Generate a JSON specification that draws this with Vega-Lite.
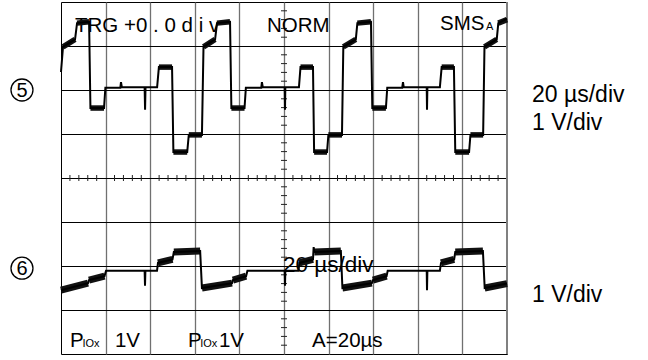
{
  "$schema": "https://vega.github.io/schema/vega-lite/v6.json",
  "width": 446,
  "height": 352,
  "autosize": {"type": "none"},
  "padding": {"left": 61, "top": 2, "right": 141, "bottom": 6},
  "background": "white",
  "config": {
    "view": {"stroke": "#000", "strokeWidth": 1},
    "font": "Liberation Sans"
  },
  "datasets": {
    "upper": [
      {"t": 0, "v": 2.41}, {"t": 0.9, "v": 2.98}, {"t": 6.3, "v": 3.15}, {"t": 7.2, "v": 3.52}, {"t": 12.6, "v": 3.55},
      {"t": 13.2, "v": 1.59}, {"t": 19.3, "v": 1.59}, {"t": 19.9, "v": 2.05}, {"t": 26.6, "v": 2.05}, {"t": 26.9, "v": 2.18},
      {"t": 27.3, "v": 2.06}, {"t": 37.5, "v": 2.06}, {"t": 37.7, "v": 1.55}, {"t": 37.9, "v": 2.06}, {"t": 43.1, "v": 2.06},
      {"t": 43.9, "v": 2.52}, {"t": 49.8, "v": 2.52}, {"t": 50.4, "v": 0.59}, {"t": 56.6, "v": 0.59}, {"t": 57.3, "v": 0.98},
      {"t": 63.2, "v": 0.98}, {"t": 63.9, "v": 2.98}, {"t": 69.1, "v": 3.15}, {"t": 69.96, "v": 3.52}, {"t": 75.8, "v": 3.55},
      {"t": 76.4, "v": 1.59}, {"t": 82.3, "v": 1.59}, {"t": 82.9, "v": 2.05}, {"t": 89.8, "v": 2.05}, {"t": 90.1, "v": 2.18},
      {"t": 90.5, "v": 2.06}, {"t": 100.3, "v": 2.06}, {"t": 100.45, "v": 1.55}, {"t": 100.6, "v": 2.06}, {"t": 106.7, "v": 2.06},
      {"t": 107.4, "v": 2.52}, {"t": 113.0, "v": 2.52}, {"t": 113.5, "v": 0.59}, {"t": 119.3, "v": 0.59}, {"t": 119.9, "v": 0.98},
      {"t": 126.0, "v": 0.98}, {"t": 126.6, "v": 2.98}, {"t": 132.2, "v": 3.15}, {"t": 132.9, "v": 3.52}, {"t": 139.0, "v": 3.55},
      {"t": 139.6, "v": 1.59}, {"t": 145.7, "v": 1.59}, {"t": 146.3, "v": 2.05}, {"t": 153.0, "v": 2.05}, {"t": 153.36, "v": 2.18},
      {"t": 153.7, "v": 2.06}, {"t": 164.0, "v": 2.06}, {"t": 164.13, "v": 1.55}, {"t": 164.3, "v": 2.06}, {"t": 169.9, "v": 2.06},
      {"t": 170.7, "v": 2.52}, {"t": 176.2, "v": 2.52}, {"t": 176.8, "v": 0.59}, {"t": 183.0, "v": 0.59}, {"t": 183.6, "v": 0.98},
      {"t": 189.3, "v": 0.98}, {"t": 189.9, "v": 2.98}, {"t": 195.4, "v": 3.15}, {"t": 196.1, "v": 3.52}, {"t": 200, "v": 3.62}
    ],
    "lower": [
      {"t": 0, "v": -2.55}, {"t": 12.1, "v": -2.39}, {"t": 12.56, "v": -2.32}, {"t": 19.5, "v": -2.23}, {"t": 20.2, "v": -2.11},
      {"t": 37.5, "v": -2.11}, {"t": 37.67, "v": -2.45}, {"t": 37.85, "v": -2.11}, {"t": 43.05, "v": -2.11}, {"t": 43.5, "v": -1.93},
      {"t": 50.0, "v": -1.85}, {"t": 50.6, "v": -1.68}, {"t": 62.4, "v": -1.66}, {"t": 63.2, "v": -2.5}, {"t": 76.7, "v": -2.39},
      {"t": 77.1, "v": -2.32}, {"t": 83.0, "v": -2.23}, {"t": 83.6, "v": -2.11}, {"t": 100.3, "v": -2.11}, {"t": 100.45, "v": -2.45},
      {"t": 100.6, "v": -2.11}, {"t": 106.5, "v": -2.11}, {"t": 106.9, "v": -1.93}, {"t": 113.0, "v": -1.85}, {"t": 113.3, "v": -1.57},
      {"t": 113.6, "v": -1.68}, {"t": 125.5, "v": -1.66}, {"t": 126.2, "v": -2.5}, {"t": 139.4, "v": -2.39}, {"t": 139.9, "v": -2.32},
      {"t": 146.0, "v": -2.23}, {"t": 146.5, "v": -2.11}, {"t": 164.0, "v": -2.11}, {"t": 164.13, "v": -2.55}, {"t": 164.3, "v": -2.11},
      {"t": 169.9, "v": -2.11}, {"t": 170.4, "v": -1.93}, {"t": 176.3, "v": -1.85}, {"t": 176.8, "v": -1.68}, {"t": 189.2, "v": -1.66},
      {"t": 190.0, "v": -2.5}, {"t": 200, "v": -2.4}
    ],
    "noise": [
      {"ch": "5", "t0": 0.9, "t1": 6.3, "v0": 2.98, "v1": 3.15},
      {"ch": "5", "t0": 7.2, "t1": 12.6, "v0": 3.52, "v1": 3.55},
      {"ch": "5", "t0": 13.2, "t1": 19.3, "v0": 1.59, "v1": 1.59},
      {"ch": "5", "t0": 43.9, "t1": 49.8, "v0": 2.52, "v1": 2.52},
      {"ch": "5", "t0": 50.4, "t1": 56.6, "v0": 0.59, "v1": 0.59},
      {"ch": "5", "t0": 57.3, "t1": 63.2, "v0": 0.98, "v1": 0.98},
      {"ch": "5", "t0": 63.9, "t1": 69.1, "v0": 2.98, "v1": 3.15},
      {"ch": "5", "t0": 69.96, "t1": 75.8, "v0": 3.52, "v1": 3.55},
      {"ch": "5", "t0": 76.4, "t1": 82.3, "v0": 1.59, "v1": 1.59},
      {"ch": "5", "t0": 107.4, "t1": 113.0, "v0": 2.52, "v1": 2.52},
      {"ch": "5", "t0": 113.5, "t1": 119.3, "v0": 0.59, "v1": 0.59},
      {"ch": "5", "t0": 119.9, "t1": 126.0, "v0": 0.98, "v1": 0.98},
      {"ch": "5", "t0": 126.6, "t1": 132.2, "v0": 2.98, "v1": 3.15},
      {"ch": "5", "t0": 132.9, "t1": 139.0, "v0": 3.52, "v1": 3.55},
      {"ch": "5", "t0": 139.6, "t1": 145.7, "v0": 1.59, "v1": 1.59},
      {"ch": "5", "t0": 170.7, "t1": 176.2, "v0": 2.52, "v1": 2.52},
      {"ch": "5", "t0": 176.8, "t1": 183.0, "v0": 0.59, "v1": 0.59},
      {"ch": "5", "t0": 183.6, "t1": 189.3, "v0": 0.98, "v1": 0.98},
      {"ch": "5", "t0": 189.9, "t1": 195.4, "v0": 2.98, "v1": 3.15},
      {"ch": "5", "t0": 196.1, "t1": 200, "v0": 3.52, "v1": 3.6},
      {"ch": "6", "t0": 0, "t1": 12.1, "v0": -2.55, "v1": -2.39},
      {"ch": "6", "t0": 12.56, "t1": 19.5, "v0": -2.32, "v1": -2.23},
      {"ch": "6", "t0": 43.5, "t1": 50.0, "v0": -1.93, "v1": -1.85},
      {"ch": "6", "t0": 50.6, "t1": 62.4, "v0": -1.68, "v1": -1.66},
      {"ch": "6", "t0": 63.2, "t1": 76.7, "v0": -2.5, "v1": -2.39},
      {"ch": "6", "t0": 77.1, "t1": 83.0, "v0": -2.32, "v1": -2.23},
      {"ch": "6", "t0": 106.9, "t1": 113.0, "v0": -1.93, "v1": -1.85},
      {"ch": "6", "t0": 113.6, "t1": 125.5, "v0": -1.68, "v1": -1.66},
      {"ch": "6", "t0": 126.2, "t1": 139.4, "v0": -2.5, "v1": -2.39},
      {"ch": "6", "t0": 139.9, "t1": 146.0, "v0": -2.32, "v1": -2.23},
      {"ch": "6", "t0": 170.4, "t1": 176.3, "v0": -1.93, "v1": -1.85},
      {"ch": "6", "t0": 176.8, "t1": 189.2, "v0": -1.68, "v1": -1.66},
      {"ch": "6", "t0": 190.0, "t1": 200, "v0": -2.5, "v1": -2.4}
    ],
    "hticks": [
      {"t": 4}, {"t": 8}, {"t": 12}, {"t": 16}, {"t": 24}, {"t": 28}, {"t": 32}, {"t": 36},
      {"t": 44}, {"t": 48}, {"t": 52}, {"t": 56}, {"t": 64}, {"t": 68}, {"t": 72}, {"t": 76},
      {"t": 84}, {"t": 88}, {"t": 92}, {"t": 96}, {"t": 104}, {"t": 108}, {"t": 112}, {"t": 116},
      {"t": 124}, {"t": 128}, {"t": 132}, {"t": 136}, {"t": 144}, {"t": 148}, {"t": 152}, {"t": 156},
      {"t": 164}, {"t": 168}, {"t": 172}, {"t": 176}, {"t": 184}, {"t": 188}, {"t": 192}, {"t": 196}
    ],
    "vticks": [
      {"v": 0.2}, {"v": 0.4}, {"v": 0.6}, {"v": 0.8}, {"v": 1.2}, {"v": 1.4}, {"v": 1.6}, {"v": 1.8},
      {"v": 2.2}, {"v": 2.4}, {"v": 2.6}, {"v": 2.8}, {"v": 3.2}, {"v": 3.4}, {"v": 3.6}, {"v": 3.8},
      {"v": -0.2}, {"v": -0.4}, {"v": -0.6}, {"v": -0.8}, {"v": -1.2}, {"v": -1.4}, {"v": -1.6}, {"v": -1.8},
      {"v": -2.2}, {"v": -2.4}, {"v": -2.6}, {"v": -2.8}, {"v": -3.2}, {"v": -3.4}, {"v": -3.6}, {"v": -3.8}
    ],
    "bigtext": [
      {"t": 6.28, "v": 3.32, "label": "TRG  +0 . 0 d i v"},
      {"t": 92.4, "v": 3.32, "label": "NORM"},
      {"t": 169.95, "v": 3.36, "label": "SMS"},
      {"t": 24.2, "v": -3.84, "label": "1V"},
      {"t": 70.8, "v": -3.84, "label": "1V"},
      {"t": 4.04, "v": -3.84, "label": "P"},
      {"t": 56.95, "v": -3.84, "label": "P"},
      {"t": 112.6, "v": -3.84, "label": "A=20µs"}
    ],
    "overlay": [
      {"t": 99.55, "v": -2.14, "label": "20 µs/div"}
    ],
    "sidetext": [
      {"t": 211.2, "v": 1.73, "label": "20 µs/div"},
      {"t": 211.2, "v": 1.09, "label": "1 V/div"},
      {"t": 211.2, "v": -2.82, "label": "1 V/div"}
    ],
    "smalltext": [
      {"t": 190.6, "v": 3.36, "label": "A"},
      {"t": 9.6, "v": -3.84, "label": "IOx"},
      {"t": 62.4, "v": -3.84, "label": "IOx"}
    ],
    "circled": [
      {"t": -17.5, "v": 2.0, "label": "5"},
      {"t": -17.5, "v": -2.05, "label": "6"}
    ],
    "edge": [{"t": 200}]
  },
  "layer": [
    {
      "data": {"name": "upper"},
      "mark": {"type": "line", "color": "#000", "strokeWidth": 0, "opacity": 0},
      "encoding": {
        "x": {"field": "t", "type": "quantitative", "scale": {"domain": [0, 200], "nice": false, "zero": false},
          "axis": {"values": [20, 40, 60, 80, 100, 120, 140, 160, 180], "grid": true, "gridColor": "#707070", "gridWidth": 1.3, "labels": false, "ticks": false, "domain": false, "title": null}},
        "y": {"field": "v", "type": "quantitative", "scale": {"domain": [-4, 4], "nice": false, "zero": false},
          "axis": {"values": [-3, -2, -1, 0, 1, 2, 3], "grid": true, "gridColor": "#000", "gridWidth": 1, "labels": false, "ticks": false, "domain": false, "title": null}}
      }
    },
    {
      "data": {"name": "edge"},
      "mark": {"type": "rule", "color": "#808080", "strokeWidth": 2},
      "encoding": {"x": {"field": "t", "type": "quantitative"}}
    },
    {
      "data": {"name": "hticks"},
      "mark": {"type": "tick", "orient": "vertical", "size": 6, "thickness": 1, "color": "#222", "opacity": 1},
      "encoding": {"x": {"field": "t", "type": "quantitative"}, "y": {"datum": 0, "type": "quantitative"}}
    },
    {
      "data": {"name": "vticks"},
      "mark": {"type": "tick", "orient": "horizontal", "size": 6, "thickness": 1, "color": "#222", "opacity": 1},
      "encoding": {"x": {"datum": 100, "type": "quantitative"}, "y": {"field": "v", "type": "quantitative"}}
    },
    {
      "data": {"name": "bigtext"},
      "mark": {"type": "text", "align": "left", "baseline": "alphabetic", "fontSize": 20.5, "font": "Liberation Sans", "color": "#000"},
      "encoding": {"x": {"field": "t", "type": "quantitative"}, "y": {"field": "v", "type": "quantitative"}, "text": {"field": "label"}}
    },
    {
      "data": {"name": "overlay"},
      "mark": {"type": "text", "align": "left", "baseline": "alphabetic", "fontSize": 22.5, "font": "Liberation Sans", "color": "#000"},
      "encoding": {"x": {"field": "t", "type": "quantitative"}, "y": {"field": "v", "type": "quantitative"}, "text": {"field": "label"}}
    },
    {
      "data": {"name": "sidetext"},
      "mark": {"type": "text", "align": "left", "baseline": "alphabetic", "fontSize": 23, "font": "Liberation Sans", "color": "#000"},
      "encoding": {"x": {"field": "t", "type": "quantitative"}, "y": {"field": "v", "type": "quantitative"}, "text": {"field": "label"}}
    },
    {
      "data": {"name": "smalltext"},
      "mark": {"type": "text", "align": "left", "baseline": "alphabetic", "fontSize": 11, "font": "Liberation Sans", "color": "#000"},
      "encoding": {"x": {"field": "t", "type": "quantitative"}, "y": {"field": "v", "type": "quantitative"}, "text": {"field": "label"}}
    },
    {
      "data": {"name": "circled"},
      "mark": {"type": "point", "shape": "circle", "size": 484, "filled": false, "stroke": "#000", "strokeWidth": 1.3, "opacity": 1},
      "encoding": {"x": {"field": "t", "type": "quantitative"}, "y": {"field": "v", "type": "quantitative"}}
    },
    {
      "data": {"name": "circled"},
      "mark": {"type": "text", "align": "center", "baseline": "middle", "fontSize": 20, "font": "Liberation Sans", "color": "#000", "dy": 1},
      "encoding": {"x": {"field": "t", "type": "quantitative"}, "y": {"field": "v", "type": "quantitative"}, "text": {"field": "label"}}
    },
    {
      "data": {"name": "noise"},
      "mark": {"type": "rule", "color": "#111", "strokeCap": "butt"},
      "encoding": {
        "x": {"field": "t0", "type": "quantitative"}, "x2": {"field": "t1"},
        "y": {"field": "v0", "type": "quantitative"}, "y2": {"field": "v1"},
        "strokeWidth": {"field": "ch", "type": "nominal", "scale": {"domain": ["5", "6"], "range": [5.5, 7]}, "legend": null}
      }
    },
    {
      "data": {"name": "upper"},
      "mark": {"type": "line", "color": "#000", "strokeWidth": 2},
      "encoding": {"x": {"field": "t", "type": "quantitative"}, "y": {"field": "v", "type": "quantitative"}}
    },
    {
      "data": {"name": "lower"},
      "mark": {"type": "line", "color": "#000", "strokeWidth": 2},
      "encoding": {"x": {"field": "t", "type": "quantitative"}, "y": {"field": "v", "type": "quantitative"}}
    }
  ]
}
